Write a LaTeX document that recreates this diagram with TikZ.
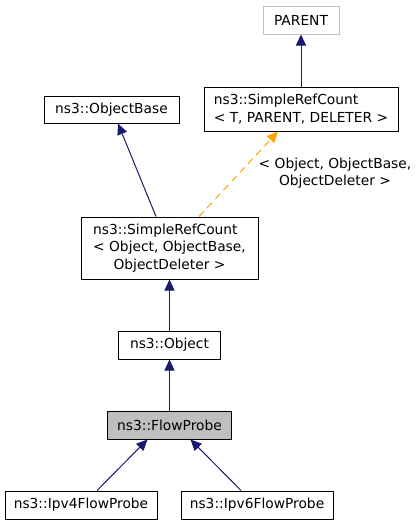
\documentclass[tikz,border=0pt]{standalone}
\usepackage{fontspec}
\setmainfont{DejaVu Sans}
\usetikzlibrary{arrows.meta}
\definecolor{navy}{HTML}{191970}
\definecolor{orng}{HTML}{FFA500}
\definecolor{lgray}{HTML}{BFBFBF}
\begin{document}
\begin{tikzpicture}[x=1pt,y=-1pt,
  box/.style={draw=black, line width=1pt, fill=white, inner sep=0pt, font=\fontsize{13.8}{17.5}\selectfont},
  inh/.style={draw=navy, line width=1pt, -{Triangle[length=11pt,width=10pt]}},
  tmpl/.style={draw=orng, line width=1pt, dash pattern=on 7pt off 5pt, -{Triangle[length=11pt,width=10pt]}},
  lbl/.style={inner sep=0pt, font=\fontsize{13.8}{17.5}\selectfont, align=center}]
\useasboundingbox (0,0) rectangle (420,525);
\fill[white] (0,0) rectangle (420,525);
\node[box, draw=lgray, minimum width=76pt, minimum height=28pt] (parent) at (301,20) {PARENT};
\node[box, minimum width=194pt, minimum height=44pt, align=left] (srct) at (301,109) {ns3::SimpleRefCount\\< T, PARENT, DELETER >};
\node[box, minimum width=135pt, minimum height=27pt] (objbase) at (111.5,109.5) {ns3::ObjectBase};
\node[box, minimum width=177pt, minimum height=62pt] (srco) at (169.5,248) {\begin{tabular}{@{}c@{}}\begin{tabular}{@{}l@{}}ns3::SimpleRefCount\\< Object, ObjectBase,\end{tabular}\\ObjectDeleter >\end{tabular}};
\node[box, minimum width=102pt, minimum height=28pt] (obj) at (169.5,345) {ns3::Object};
\node[box, fill=lgray, minimum width=124pt, minimum height=28pt] (flow) at (169.5,425) {ns3::FlowProbe};
\node[box, minimum width=152pt, minimum height=28pt] (ipv4) at (81,505) {ns3::Ipv4FlowProbe};
\node[box, minimum width=152pt, minimum height=28pt] (ipv6) at (257,505) {ns3::Ipv6FlowProbe};
\node[lbl] (tl) at (335,173) {< Object, ObjectBase,\\ObjectDeleter >};
\draw[inh] (srct.north) -- (parent.south);
\draw[inh] ([xshift=-13.5pt]srco.north) -- ([xshift=6.5pt]objbase.south);
\draw[tmpl] ([xshift=29.5pt]srco.north) -- ([xshift=-23pt]srct.south);
\draw[inh] (obj.north) -- (srco.south);
\draw[inh] (flow.north) -- (obj.south);
\draw[inh] ([xshift=16pt]ipv4.north) -- ([xshift=-22pt]flow.south);
\draw[inh] ([xshift=-16pt]ipv6.north) -- ([xshift=21pt]flow.south);
\end{tikzpicture}
\end{document}
